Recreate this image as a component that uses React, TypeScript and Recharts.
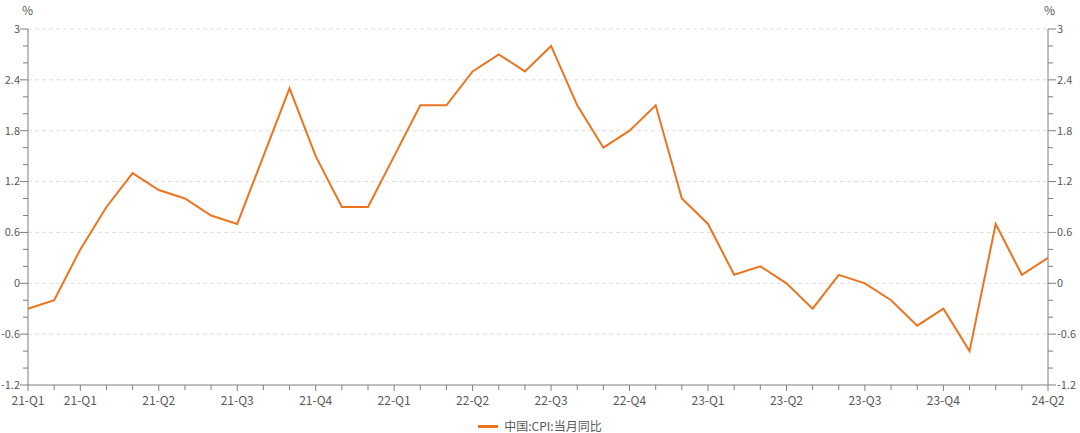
import React from 'react';
import { LineChart, Line, XAxis, YAxis, ReferenceLine } from 'recharts';

// 中国 CPI 当月同比, 2021-01 .. 2024-04
const months = [
  '2021-01', '2021-02', '2021-03', '2021-04', '2021-05', '2021-06', '2021-07', '2021-08', '2021-09', '2021-10', '2021-11', '2021-12',
  '2022-01', '2022-02', '2022-03', '2022-04', '2022-05', '2022-06', '2022-07', '2022-08', '2022-09', '2022-10', '2022-11', '2022-12',
  '2023-01', '2023-02', '2023-03', '2023-04', '2023-05', '2023-06', '2023-07', '2023-08', '2023-09', '2023-10', '2023-11', '2023-12',
  '2024-01', '2024-02', '2024-03', '2024-04',
];

const cpi = [
  -0.3, -0.2, 0.4, 0.9, 1.3, 1.1, 1.0, 0.8, 0.7, 1.5, 2.3, 1.5,
  0.9, 0.9, 1.5, 2.1, 2.1, 2.5, 2.7, 2.5, 2.8, 2.1, 1.6, 1.8,
  2.1, 1.0, 0.7, 0.1, 0.2, 0.0, -0.3, 0.1, 0.0, -0.2, -0.5, -0.3,
  -0.8, 0.7, 0.1, 0.3,
];

const xTickLabels: Record<string, string> = {
  '2021-01': '21-Q1',
  '2021-03': '21-Q1',
  '2021-06': '21-Q2',
  '2021-09': '21-Q3',
  '2021-12': '21-Q4',
  '2022-03': '22-Q1',
  '2022-06': '22-Q2',
  '2022-09': '22-Q3',
  '2022-12': '22-Q4',
  '2023-03': '23-Q1',
  '2023-06': '23-Q2',
  '2023-09': '23-Q3',
  '2023-12': '23-Q4',
  '2024-04': '24-Q2',
};

const yTicks = [-1.2, -1, -0.8, -0.6, -0.4, -0.2, 0, 0.2, 0.4, 0.6, 0.8, 1, 1.2, 1.4, 1.6, 1.8, 2, 2.2, 2.4, 2.6, 2.8, 3];
const yLabels = [-1.2, -0.6, 0, 0.6, 1.2, 1.8, 2.4, 3];
const gridValues = [-0.6, 0, 0.6, 1.2, 1.8, 2.4, 3];

const seriesName = '中国:CPI:当月同比';

const FONT = '"Noto Sans CJK SC", "Noto Sans", sans-serif';
const AXIS = '#7f7f7f';
const TEXT = '#595959';
const LINE = '#ec7420';

const data = months.map((m, i) => ({ month: m, value: cpi[i] }));

const isLabel = (v: number) => yLabels.some((l) => Math.abs(l - v) < 1e-6);

const fmt = (v: number) => (Math.abs(v) < 1e-9 ? '0' : String(v));

const LeftTick = ({ x, y, payload }: any) => {
  const major = isLabel(payload.value);
  const len = major ? 8 : 5;
  return (
    <g>
      <line x1={x - len} x2={x} y1={y} y2={y} stroke={AXIS} />
      {major && (
        <text x={x - len} y={y} dy="0.35em" textAnchor="end" fill={TEXT} fontSize={11} fontFamily={FONT}>
          {fmt(payload.value)}
        </text>
      )}
    </g>
  );
};

const RightTick = ({ x, y, payload }: any) => {
  const major = isLabel(payload.value);
  const len = major ? 8 : 5;
  return (
    <g>
      <line x1={x} x2={x + len} y1={y} y2={y} stroke={AXIS} />
      {major && (
        <text x={x + len + 1} y={y} dy="0.35em" textAnchor="start" fill={TEXT} fontSize={11} fontFamily={FONT}>
          {fmt(payload.value)}
        </text>
      )}
    </g>
  );
};

const BottomTick = ({ x, y, payload }: any) => {
  const label = xTickLabels[payload.value];
  return (
    <g>
      <line x1={x} x2={x} y1={y} y2={y + (label ? 6 : 5)} stroke={AXIS} />
      {label && (
        <text x={x} y={y + 20} textAnchor="middle" fill={TEXT} fontSize={12} fontFamily={FONT}>
          {label}
        </text>
      )}
    </g>
  );
};

export default function App() {
  return (
    <div style={{ position: 'relative', width: 1080, height: 433, background: '#fff', fontFamily: FONT, overflow: 'hidden' }}>
      <style>{'body{margin:0}'}</style>
      <LineChart width={1080} height={433} data={data} margin={{ top: 29, right: 0, bottom: 26, left: 0 }}>
        {gridValues.map((v) => (
          <ReferenceLine key={v} yAxisId="left" y={v} stroke="#dedede" strokeDasharray="4 3" />
        ))}
        <XAxis
          dataKey="month"
          height={22}
          interval={0}
          tickSize={0}
          tickMargin={0}
          tickLine={false}
          tick={<BottomTick />}
          stroke={AXIS}
        />
        <YAxis
          yAxisId="left"
          width={28}
          domain={[-1.2, 3]}
          allowDataOverflow
          ticks={yTicks}
          interval={0}
          tickSize={0}
          tickMargin={0}
          tickLine={false}
          tick={<LeftTick />}
          stroke={AXIS}
        />
        <YAxis
          yAxisId="right"
          orientation="right"
          width={32}
          domain={[-1.2, 3]}
          allowDataOverflow
          ticks={yTicks}
          interval={0}
          tickSize={0}
          tickMargin={0}
          tickLine={false}
          tick={<RightTick />}
          stroke={AXIS}
        />
        <Line
          yAxisId="left"
          type="linear"
          dataKey="value"
          name={seriesName}
          stroke={LINE}
          strokeWidth={2}
          dot={false}
          activeDot={false}
          isAnimationActive={false}
        />
      </LineChart>
      <div style={{ position: 'absolute', left: 22, top: 3, fontSize: 12, lineHeight: '14px', color: TEXT }}>%</div>
      <div style={{ position: 'absolute', left: 1044, top: 3, fontSize: 12, lineHeight: '14px', color: TEXT }}>%</div>
      <div
        style={{
          position: 'absolute',
          left: 0,
          width: 1080,
          top: 419,
          height: 14,
          display: 'flex',
          justifyContent: 'center',
          alignItems: 'center',
          fontSize: 12,
          lineHeight: '14px',
          color: TEXT,
        }}
      >
        <span style={{ display: 'inline-block', width: 20, height: 3, background: LINE, marginRight: 6 }} />
        <span style={{ whiteSpace: 'nowrap' }}>{seriesName}</span>
      </div>
    </div>
  );
}
